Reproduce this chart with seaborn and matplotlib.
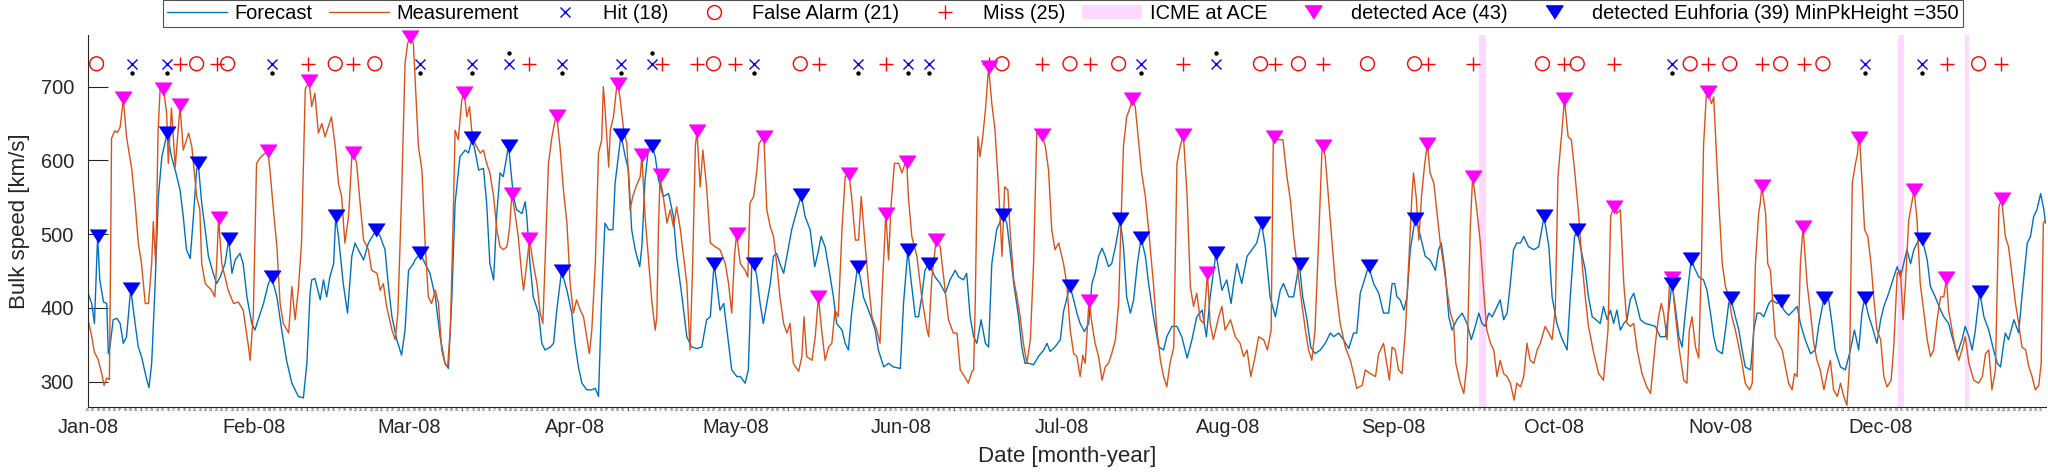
import numpy as np
import pandas as pd
import matplotlib
matplotlib.use("Agg")
import matplotlib.pyplot as plt
import matplotlib.dates as mdates
from matplotlib.lines import Line2D
from matplotlib.patches import Patch
import seaborn as sns

# measured bulk speed at ACE (day of 2008, km/s)
meas_day = [0.0, 0.6, 1.2, 1.9, 2.6, 3.0, 3.5, 4.0, 4.2, 4.4, 5.0, 5.5, 6.0, 6.6, 7.2, 8.2, 8.8, 9.4, 10.0, 10.7,
            11.3, 11.9, 12.2, 12.65, 13.1, 13.5, 14.1, 14.7, 15.0, 15.6, 16.3, 17.2, 17.8, 18.8, 19.4, 20.3, 20.9, 21.25, 21.9, 23.1,
            23.7, 24.05, 24.4, 25.0, 26.2, 27.2, 28.1, 29.0, 30.0, 30.3, 30.9, 31.5, 32.1, 33.1, 33.6, 34.0, 34.6, 35.3, 35.9, 36.5,
            37.5, 38.1, 38.7, 39.3, 39.9, 40.6, 41.3, 41.8, 42.4, 43.05, 43.7, 44.3, 45.5, 46.2, 46.8, 47.4, 48.0, 48.7, 49.3, 49.6,
            50.2, 50.8, 51.5, 52.4, 53.0, 54.0, 54.6, 55.2, 55.8, 56.8, 57.4, 57.9, 58.6, 59.25, 59.75, 60.2, 60.8, 61.3, 61.75, 62.4,
            63.0, 63.6, 64.2, 64.9, 65.5, 66.1, 66.7, 67.2, 67.7, 68.2, 68.6, 69.2, 69.85, 70.3, 70.8, 71.3, 71.7, 72.3, 73.3, 73.9,
            74.5, 75.1, 75.8, 76.4, 77.0, 77.6, 78.3, 78.8, 79.2, 79.8, 80.4, 81.1, 81.4, 82.0, 82.5, 83.2, 83.9, 84.5, 85.0, 85.4,
            86.05, 86.7, 87.3, 87.6, 88.2, 88.85, 89.5, 90.1, 90.7, 91.3, 92.0, 92.6, 93.2, 93.7, 94.15, 94.8, 95.4, 96.0, 96.3, 96.6,
            97.3, 97.6, 98.2, 98.8, 99.0, 99.4, 100.1, 100.7, 101.3, 101.8, 102.4, 103.2, 103.5, 104.1, 104.7, 105.4, 106.0, 106.3, 106.6, 106.9,
            107.5, 108.2, 108.8, 109.4, 110.0, 110.7, 111.3, 111.9, 112.5, 113.0, 113.5, 113.8, 114.4, 114.9, 115.6, 116.3, 117.2, 118.1, 119.1, 119.7,
            120.3, 120.8, 121.2, 121.9, 122.8, 123.3, 123.7, 124.4, 125.0, 125.4, 126.3, 126.85, 127.5, 128.1, 128.7, 129.3, 130.0, 130.6, 131.2, 131.8,
            132.8, 133.4, 133.8, 134.3, 135.3, 135.9, 136.5, 137.1, 137.75, 138.4, 139.0, 139.6, 140.2, 140.9, 141.5, 142.2, 142.7, 143.4, 144.0, 144.5,
            145.2, 145.85, 146.5, 147.4, 148.0, 148.5, 149.1, 149.6, 150.1, 150.7, 151.5, 152.1, 152.7, 153.0, 153.3, 153.95, 154.9, 155.8, 156.8, 157.1,
            157.7, 158.5, 159.25, 159.9, 160.8, 161.7, 162.4, 163.0, 163.8, 164.5, 165.2, 165.5, 165.8, 166.3, 166.7, 167.2, 167.7, 168.3, 168.9, 169.5,
            170.15, 170.5, 170.8, 171.3, 171.9, 172.3, 173.0, 173.6, 174.2, 174.8, 175.45, 176.1, 176.7, 177.3, 177.9, 178.25, 178.9, 179.5, 180.1, 180.7,
            181.4, 182.3, 182.9, 183.55, 184.2, 184.8, 185.4, 185.9, 186.35, 187.0, 187.1, 187.6, 188.2, 188.85, 189.5, 190.1, 190.7, 191.3, 192.0, 192.6,
            193.0, 193.5, 194.1, 194.8, 195.1, 195.7, 196.3, 196.9, 197.6, 198.2, 199.1, 199.75, 200.4, 201.0, 201.6, 202.2, 202.9, 203.5, 204.1, 204.7,
            205.4, 206.0, 206.6, 207.2, 207.85, 208.5, 209.2, 209.7, 210.3, 211.3, 211.9, 212.5, 213.5, 214.4, 215.3, 215.95, 216.6, 217.3, 218.1, 218.75,
            219.7, 220.4, 221.1, 221.5, 221.7, 222.5, 223.3, 224.05, 224.7, 225.3, 225.9, 226.5, 227.5, 228.1, 228.7, 229.3, 230.0, 230.6, 230.8, 231.2,
            231.8, 232.5, 233.1, 234.0, 234.95, 235.9, 236.5, 237.1, 238.1, 238.7, 239.6, 240.6, 241.2, 242.1, 242.7, 243.2, 243.7, 244.3, 244.9, 245.55,
            246.2, 246.8, 247.4, 247.7, 248.2, 248.7, 249.2, 249.8, 250.3, 250.8, 251.5, 252.1, 252.7, 253.3, 253.96, 254.6, 255.2, 255.6, 256.45, 257.1,
            257.7, 258.3, 258.75, 259.4, 260.2, 260.8, 261.4, 262.1, 262.7, 263.3, 263.9, 264.55, 265.2, 265.8, 266.5, 267.0, 267.7, 268.3, 268.9, 269.5,
            270.2, 270.8, 271.4, 272.3, 273.0, 273.6, 274.2, 274.7, 275.45, 275.9, 276.6, 277.2, 277.8, 278.6, 279.2, 279.8, 280.4, 281.4, 282.3, 283.2,
            284.05, 284.55, 285.1, 285.7, 286.35, 287.0, 287.6, 288.2, 288.85, 289.5, 290.4, 291.3, 292.0, 292.9, 293.5, 294.0, 294.45, 295.1, 295.5, 296.0,
            296.6, 297.3, 298.2, 298.8, 299.25, 299.75, 300.4, 301.0, 301.5, 301.9, 302.4, 302.7, 303.4, 303.8, 304.1, 304.7, 305.4, 306.0, 306.6, 307.2,
            307.85, 308.5, 309.1, 309.7, 310.5, 311.0, 311.6, 312.2, 312.5, 312.8, 313.5, 313.9, 314.4, 315.3, 315.95, 316.6, 317.2, 317.8, 318.45, 318.9,
            319.4, 320.0, 320.5, 321.25, 321.9, 322.5, 323.1, 323.7, 324.4, 325.0, 325.6, 326.2, 326.9, 327.5, 328.1, 328.7, 329.2, 329.7, 330.3, 330.7,
            330.9, 331.1, 331.5, 332.0, 332.6, 333.2, 333.7, 334.3, 335.0, 335.6, 336.2, 336.95, 337.45, 338.1, 338.7, 339.2, 339.6, 340.25, 340.9, 341.25,
            341.8, 342.4, 343.1, 343.7, 344.3, 344.9, 345.55, 346.2, 346.8, 347.3, 347.7, 348.35, 349.0, 349.6, 350.2, 350.8, 351.5, 352.4, 353.3, 354.0,
            354.6, 355.2, 355.8, 356.45, 357.1, 357.6, 358.3, 358.9, 359.6, 360.2, 360.8, 361.4, 362.1, 362.7, 363.3, 363.9, 364.55, 365.0, 365.4, 365.8]
meas_kms = [384, 365, 340, 330, 310, 295, 305, 303, 450, 630, 640, 638, 645, 683, 632, 587, 542, 488, 460, 406,
            406, 460, 517, 460, 640, 700, 697, 664, 596, 671, 591, 673, 614, 637, 619, 551, 533, 460, 433, 424,
            415, 460, 522, 460, 424, 406, 408, 397, 347, 329, 393, 596, 603, 610, 613, 587, 537, 483, 406, 379,
            366, 429, 384, 424, 488, 696, 708, 673, 691, 637, 650, 632, 659, 619, 569, 551, 488, 524, 605, 610,
            596, 546, 492, 479, 451, 447, 424, 433, 402, 370, 357, 393, 551, 732, 759, 767, 759, 686, 619, 587,
            488, 415, 406, 424, 406, 343, 325, 320, 370, 506, 641, 628, 682, 691, 659, 673, 641, 623, 610, 614,
            596, 583, 551, 506, 483, 479, 483, 510, 555, 528, 497, 442, 424, 460, 494, 460, 433, 393, 379, 460,
            596, 632, 655, 660, 619, 560, 515, 433, 393, 411, 397, 388, 361, 338, 370, 460, 610, 628, 700, 673,
            591, 641, 659, 700, 703, 686, 641, 623, 533, 551, 564, 578, 607, 524, 470, 406, 370, 388, 506, 578,
            551, 515, 533, 510, 537, 506, 470, 433, 343, 460, 619, 640, 564, 614, 564, 488, 483, 479, 460, 433,
            393, 470, 500, 460, 451, 442, 542, 551, 587, 623, 632, 533, 510, 497, 460, 415, 379, 366, 379, 325,
            314, 334, 388, 334, 329, 361, 415, 370, 329, 347, 352, 397, 388, 506, 578, 582, 551, 492, 492, 551,
            488, 433, 388, 370, 352, 438, 528, 465, 542, 596, 596, 583, 596, 598, 551, 497, 470, 415, 370, 361,
            442, 492, 483, 442, 384, 366, 366, 316, 307, 298, 314, 316, 406, 632, 605, 632, 668, 727, 677, 641,
            564, 515, 470, 564, 560, 506, 438, 415, 388, 352, 325, 357, 460, 637, 635, 635, 619, 587, 506, 479,
            488, 460, 433, 370, 338, 334, 307, 336, 325, 402, 410, 379, 352, 334, 302, 320, 325, 338, 357, 406,
            506, 619, 659, 673, 683, 673, 628, 583, 551, 506, 433, 370, 329, 307, 293, 325, 347, 596, 619, 635,
            551, 429, 402, 420, 384, 379, 447, 379, 357, 388, 402, 370, 384, 361, 352, 334, 343, 307, 334, 361,
            357, 343, 370, 628, 632, 628, 628, 578, 546, 497, 460, 424, 370, 343, 329, 370, 497, 614, 620, 605,
            551, 488, 433, 379, 347, 329, 311, 291, 295, 316, 311, 307, 338, 352, 325, 302, 347, 343, 316, 311,
            370, 460, 551, 583, 551, 492, 551, 596, 622, 583, 569, 528, 488, 460, 424, 393, 379, 325, 298, 284,
            325, 506, 578, 542, 488, 424, 370, 352, 343, 307, 329, 311, 307, 298, 275, 298, 293, 307, 352, 329,
            325, 343, 352, 375, 366, 357, 397, 578, 641, 683, 632, 628, 587, 524, 460, 415, 375, 338, 311, 302,
            370, 524, 537, 528, 533, 433, 379, 375, 379, 343, 311, 293, 284, 352, 388, 406, 393, 357, 429, 440,
            393, 347, 302, 298, 370, 388, 347, 332, 460, 619, 686, 693, 677, 686, 641, 551, 460, 429, 415, 388,
            370, 347, 325, 298, 289, 298, 460, 528, 542, 565, 528, 460, 451, 361, 352, 343, 320, 298, 289, 311,
            307, 460, 510, 433, 393, 352, 329, 316, 289, 311, 329, 289, 280, 298, 280, 268, 325, 569, 596, 610,
            630, 628, 574, 506, 497, 460, 415, 370, 357, 307, 293, 302, 347, 447, 451, 384, 429, 519, 546, 560,
            519, 433, 393, 357, 334, 343, 384, 415, 415, 440, 397, 370, 343, 329, 343, 361, 325, 302, 298, 307,
            338, 343, 289, 316, 537, 548, 497, 483, 442, 406, 379, 347, 343, 320, 307, 289, 295, 325, 515, 519]

# EUHFORIA forecast (day of 2008, km/s)
fc_day = [0.0, 0.7, 1.2, 1.6, 1.8, 2.2, 2.9, 3.5, 3.8, 4.1, 4.7, 5.4, 6.0, 6.6, 7.2, 7.85, 8.0, 8.8, 9.4, 10.0,
          11.0, 11.4, 11.9, 12.5, 13.15, 13.8, 14.8, 15.6, 16.3, 17.2, 17.8, 18.4, 19.1, 19.7, 20.3, 20.6, 21.25, 21.9, 22.5, 23.4,
          24.05, 24.7, 25.6, 26.3, 26.9, 27.5, 28.4, 29.0, 29.7, 30.6, 31.2, 31.8, 32.8, 33.7, 34.3, 35.3, 36.2, 37.1, 38.1, 39.3,
          40.25, 40.9, 41.5, 41.8, 42.4, 43.4, 44.0, 44.6, 45.2, 45.9, 46.3, 46.8, 47.7, 48.5, 49.3, 49.9, 50.5, 51.5, 52.4, 53.8,
          54.6, 55.5, 56.1, 56.8, 57.7, 58.6, 59.25, 59.9, 60.8, 61.1, 62.1, 63.0, 63.9, 64.9, 65.8, 66.7, 67.35, 68.0, 68.6, 69.5,
          70.5, 71.1, 71.8, 72.3, 73.0, 73.9, 74.5, 75.1, 75.8, 76.4, 77.0, 77.6, 78.6, 78.9, 79.5, 80.1, 81.1, 81.7, 82.0, 82.6,
          83.2, 84.2, 84.8, 85.4, 86.4, 87.0, 87.6, 88.5, 89.5, 90.4, 91.0, 91.65, 92.3, 93.2, 94.15, 94.8, 95.4, 96.0, 96.6, 97.3,
          98.1, 98.5, 99.6, 100.4, 101.0, 101.6, 102.25, 103.1, 103.5, 104.1, 104.7, 105.4, 106.0, 106.6, 107.5, 108.5, 109.4, 110.0, 111.0, 111.9,
          112.8, 113.8, 114.7, 115.6, 116.3, 117.0, 117.5, 118.1, 118.8, 119.4, 120.3, 121.25, 121.9, 122.8, 123.4, 124.05, 124.5, 125.0, 125.6, 126.2,
          126.85, 127.5, 128.1, 128.7, 129.3, 130.0, 130.6, 131.5, 132.5, 133.3, 134.0, 134.95, 135.8, 136.4, 137.0, 137.75, 138.7, 139.3, 139.9, 140.9,
          141.5, 142.1, 142.7, 143.8, 144.3, 144.9, 145.85, 146.5, 147.1, 147.7, 148.7, 149.6, 150.5, 151.8, 152.4, 153.2, 153.8, 154.6, 155.2, 155.8,
          156.4, 157.1, 157.7, 158.3, 159.25, 160.2, 161.1, 162.05, 162.7, 163.6, 164.2, 164.85, 165.5, 166.1, 166.9, 167.7, 168.3, 168.9, 169.8, 171.0,
          171.7, 172.3, 173.0, 173.9, 174.5, 175.1, 175.8, 176.7, 177.6, 178.6, 179.2, 179.8, 180.7, 181.7, 182.3, 183.5, 184.2, 184.8, 185.4, 186.2,
          187.0, 187.6, 188.2, 188.85, 189.5, 190.1, 190.7, 191.3, 192.0, 192.9, 193.5, 194.1, 194.8, 195.4, 196.1, 196.8, 197.6, 198.2, 199.1, 200.1,
          201.0, 201.6, 202.55, 203.5, 204.4, 205.4, 206.3, 207.2, 208.2, 209.0, 209.7, 210.8, 211.3, 211.9, 212.8, 213.6, 214.1, 214.7, 215.6, 216.6,
          217.5, 218.4, 219.3, 220.0, 220.9, 221.9, 222.8, 223.4, 224.4, 225.3, 226.35, 227.0, 227.8, 228.5, 229.3, 230.3, 231.2, 232.15, 232.8, 233.7,
          234.6, 235.6, 236.5, 237.1, 237.75, 238.7, 239.3, 240.25, 241.2, 242.1, 243.05, 243.7, 244.2, 244.6, 245.2, 245.9, 246.5, 247.1, 248.0, 248.7,
          249.3, 249.9, 250.8, 251.8, 252.4, 252.9, 253.65, 254.3, 254.9, 255.8, 256.8, 257.7, 258.5, 259.25, 259.9, 260.5, 261.1, 261.75, 262.4, 263.0,
          263.9, 264.55, 265.2, 265.8, 266.4, 267.0, 267.7, 268.3, 269.2, 270.2, 271.1, 272.1, 273.0, 273.6, 274.5, 275.3, 276.4, 277.0, 277.8, 278.3,
          278.9, 279.8, 280.4, 281.1, 281.8, 282.6, 283.2, 283.9, 284.5, 285.1, 285.7, 286.35, 287.0, 287.6, 288.2, 288.85, 289.5, 290.1, 291.0, 292.0,
          292.9, 293.8, 294.8, 296.0, 296.6, 297.3, 297.9, 298.5, 299.6, 300.1, 301.0, 301.9, 302.55, 303.2, 303.8, 304.4, 305.4, 306.0, 306.6, 307.0,
          307.85, 308.5, 309.1, 309.7, 310.7, 311.3, 311.9, 312.5, 313.15, 314.1, 314.7, 315.6, 316.3, 316.9, 317.8, 318.8, 319.4, 320.0, 320.9, 321.9,
          322.8, 323.4, 324.4, 325.3, 325.9, 326.5, 327.5, 328.4, 329.35, 330.1, 330.9, 331.5, 332.0, 332.8, 333.4, 334.3, 335.0, 335.6, 336.5, 337.45,
          338.1, 338.7, 339.3, 339.9, 340.6, 341.2, 342.1, 342.8, 343.7, 344.3, 345.2, 346.2, 346.8, 347.7, 348.35, 349.3, 350.2, 350.8, 351.5, 352.1,
          352.7, 353.5, 354.3, 355.2, 356.1, 356.8, 357.4, 357.9, 358.3, 358.9, 359.9, 360.8, 361.4, 362.4, 363.0, 363.6, 364.2, 364.9, 365.5, 365.8]
fc_kms = [420, 406, 379, 460, 497, 438, 408, 406, 338, 347, 384, 386, 379, 352, 361, 415, 425, 379, 347, 334,
          302, 292, 325, 424, 551, 605, 637, 605, 587, 560, 524, 479, 467, 524, 587, 596, 542, 506, 470, 447,
          433, 442, 460, 493, 447, 465, 474, 460, 415, 379, 370, 384, 406, 433, 442, 415, 370, 329, 298, 280,
          278, 325, 420, 438, 440, 411, 438, 415, 442, 460, 524, 497, 433, 393, 470, 488, 479, 465, 488, 505,
          497, 479, 433, 388, 357, 336, 370, 451, 460, 465, 474, 460, 447, 415, 361, 325, 318, 415, 542, 605,
          614, 610, 630, 614, 587, 589, 542, 460, 438, 528, 583, 578, 620, 596, 551, 533, 528, 544, 524, 460,
          415, 393, 352, 343, 347, 352, 397, 450, 424, 393, 352, 320, 298, 289, 289, 291, 280, 415, 515, 506,
          506, 569, 635, 605, 587, 506, 479, 456, 483, 574, 614, 620, 605, 574, 551, 555, 524, 470, 415, 361,
          347, 345, 347, 384, 388, 460, 433, 397, 406, 370, 316, 307, 307, 298, 316, 460, 460, 442, 406, 379,
          406, 433, 470, 474, 460, 447, 470, 506, 533, 553, 524, 506, 456, 474, 497, 483, 442, 415, 379, 370,
          352, 343, 393, 456, 442, 415, 397, 384, 370, 343, 320, 325, 320, 318, 406, 478, 438, 388, 388, 415,
          451, 460, 451, 442, 433, 420, 438, 451, 442, 438, 447, 388, 361, 352, 384, 352, 347, 460, 506, 526,
          515, 479, 433, 388, 347, 325, 325, 323, 334, 343, 352, 341, 347, 357, 395, 430, 411, 393, 379, 368,
          379, 433, 447, 470, 481, 470, 456, 460, 483, 520, 483, 415, 393, 411, 460, 495, 470, 433, 388, 347,
          343, 361, 375, 375, 361, 332, 357, 388, 397, 361, 415, 475, 451, 424, 438, 406, 433, 460, 433, 470,
          479, 488, 515, 483, 415, 388, 424, 433, 415, 415, 460, 415, 384, 347, 338, 343, 352, 366, 361, 366,
          357, 345, 366, 366, 420, 442, 457, 433, 420, 393, 393, 433, 433, 415, 411, 397, 415, 479, 520, 506,
          488, 470, 465, 451, 479, 488, 447, 388, 370, 384, 393, 379, 357, 375, 393, 379, 375, 393, 388, 397,
          411, 384, 393, 433, 479, 488, 488, 497, 483, 479, 483, 524, 483, 415, 379, 361, 343, 415, 497, 505,
          483, 451, 415, 388, 384, 379, 402, 384, 397, 379, 397, 370, 379, 384, 411, 420, 402, 384, 379, 377,
          375, 361, 361, 433, 402, 361, 347, 393, 467, 456, 442, 438, 424, 393, 361, 343, 338, 370, 406, 413,
          388, 370, 343, 320, 316, 370, 393, 393, 388, 406, 411, 406, 410, 397, 390, 397, 402, 379, 357, 338,
          343, 375, 413, 411, 379, 343, 320, 316, 343, 370, 343, 393, 413, 388, 375, 352, 384, 402, 420, 442,
          456, 442, 460, 479, 460, 479, 492, 493, 465, 429, 415, 397, 388, 379, 361, 338, 357, 375, 361, 343,
          370, 422, 388, 370, 343, 325, 320, 347, 366, 357, 384, 366, 415, 488, 497, 524, 533, 555, 533, 515]

# detected peaks
ace_peak_day = [6.6, 14.1, 17.2, 24.4, 33.6, 41.3, 49.6, 60.2, 70.3, 79.3, 82.5, 87.6, 99.0, 103.5, 107.0,
                113.8, 121.2, 126.3, 136.5, 142.2, 149.1, 153.0, 158.5, 168.3, 178.2, 187.1, 195.1, 204.7, 209.2,
                221.7, 230.8, 250.3, 258.8, 275.9, 285.1, 296.0, 302.7, 312.8, 320.5, 330.9, 341.2, 347.3, 357.6]
ace_peak_kms = [685, 697, 675, 522, 613, 708, 610, 767, 691, 555, 494, 660, 703, 607, 580,
                640, 500, 632, 415, 582, 528, 598, 492, 727, 635, 410, 683, 635, 447,
                632, 620, 622, 578, 683, 537, 440, 693, 565, 510, 630, 560, 440, 548]
euh_peak_day = [1.8, 8.0, 14.8, 20.6, 26.3, 34.3, 46.3, 53.8, 62.1, 71.8, 78.6, 88.5, 99.6, 105.4, 117.0,
                124.5, 133.3, 143.8, 153.2, 157.1, 171.0, 183.5, 192.9, 196.8, 210.8, 219.3, 226.4, 239.3, 248.0,
                272.1, 278.3, 296.0, 299.6, 307.0, 316.3, 324.4, 332.0, 342.8, 353.5]
euh_peak_kms = [497, 425, 637, 596, 493, 442, 524, 505, 474, 630, 620, 450, 635, 620, 460,
                460, 553, 456, 478, 460, 526, 430, 520, 495, 475, 515, 460, 457, 520,
                524, 505, 433, 467, 413, 410, 413, 413, 493, 422]

# event classification (all drawn on one row)
hit_day = [8.2, 14.7, 34.3, 62.1, 71.7, 78.6, 88.5, 99.6, 105.4, 124.5, 143.8, 153.2, 157.1, 196.8,
           210.8, 296.0, 332.0, 342.8]
fa_day = [1.6, 20.3, 26.1, 46.2, 53.6, 116.9, 133.1, 170.8, 183.5, 192.6, 219.1, 226.2, 239.1, 247.9,
          271.8, 278.3, 299.4, 306.8, 316.3, 324.2, 353.3]
miss_day = [17.2, 24.2, 41.2, 49.6, 82.5, 107.2, 113.8, 121.0, 136.6, 149.1, 168.4, 178.2, 187.2, 204.7,
            221.9, 230.8, 250.4, 258.8, 275.9, 285.1, 302.7, 312.8, 320.6, 347.4, 357.5]
event_kms = 731
dot_day = [8.2, 14.7, 34.3, 62.1, 71.7, 78.6, 88.5, 99.6, 105.4, 124.5, 143.8, 153.2, 157.1, 196.8,
           210.8, 296.0, 332.0, 342.8]
dot_kms = [718, 718, 718, 718, 718, 746, 718, 718, 746, 718, 718, 718, 718, 718,
           746, 718, 718, 718]

# ICME intervals at ACE (start, end day)
icme_start = [260.0, 338.3, 350.7]
icme_end = [261.3, 339.4, 351.6]

start = pd.Timestamp("2008-01-01")


def to_dates(days):
    return start + pd.to_timedelta(np.asarray(days, dtype=float), unit="D")


blue = "#0072BD"
orange = "#D95319"
magenta = "#FF00FF"
ink = "#262626"
tri = [(-1, 0.78), (1, 0.78), (0, -0.78)]

sns.set_style("white")
plt.rcParams["font.family"] = ["Liberation Sans", "DejaVu Sans"]

fig = plt.figure(figsize=(20.48, 4.73), dpi=100)
ax = fig.add_axes([88 / 2048, 66 / 473, 1958 / 2048, 372 / 473])

for a, b in zip(icme_start, icme_end):
    ax.axvspan(to_dates([a])[0], to_dates([b])[0], color=magenta, alpha=0.15, lw=0, zorder=0)

fc = pd.DataFrame({"time": to_dates(fc_day), "kms": fc_kms})
meas = pd.DataFrame({"time": to_dates(meas_day), "kms": meas_kms})
sns.lineplot(data=fc, x="time", y="kms", color=blue, linewidth=1.0, estimator=None, ax=ax, zorder=2)
sns.lineplot(data=meas, x="time", y="kms", color=orange, linewidth=1.0, estimator=None, ax=ax, zorder=2)

sns.scatterplot(x=to_dates(hit_day), y=[event_kms] * len(hit_day), marker="x", s=52, color="b",
                linewidth=1.0, ax=ax, zorder=4, clip_on=False)
sns.scatterplot(x=to_dates(fa_day), y=[event_kms] * len(fa_day), marker="o", s=100, color="r",
                facecolor="none", edgecolor="r", linewidth=1.0, ax=ax, zorder=4, clip_on=False)
sns.scatterplot(x=to_dates(miss_day), y=[event_kms] * len(miss_day), marker="+", s=100, color="r",
                linewidth=1.0, ax=ax, zorder=4, clip_on=False)
sns.scatterplot(x=to_dates(dot_day), y=dot_kms, marker="o", s=10, color="k", edgecolor="k",
                linewidth=0, ax=ax, zorder=4, clip_on=False)
sns.scatterplot(x=to_dates(ace_peak_day), y=ace_peak_kms, marker=tri, s=150, color=magenta,
                edgecolor=magenta, linewidth=0.5, ax=ax, zorder=5, clip_on=False)
sns.scatterplot(x=to_dates(euh_peak_day), y=euh_peak_kms, marker=tri, s=150, color="b", edgecolor="b",
                linewidth=0.5, ax=ax, zorder=5, clip_on=False)

ax.set_xlim(start, start + pd.Timedelta(days=365.9))
ax.set_ylim(265.7, 770)
ax.set_yticks([300, 400, 500, 600, 700])

ax.xaxis.set_major_locator(mdates.MonthLocator())
ax.xaxis.set_major_formatter(mdates.DateFormatter("%b-%y"))
ax.xaxis.set_minor_locator(mdates.DayLocator())
ax.xaxis.set_minor_formatter(mdates.DateFormatter("%d"))
ax.xaxis.remove_overlapping_locs = False

ax.tick_params(axis="x", which="major", direction="in", length=14.4, width=0.8, color=ink,
               labelsize=14.4, labelcolor=ink, pad=8)
ax.tick_params(axis="x", which="minor", direction="in", length=7.2, width=0.6, color=ink,
               labelsize=2.5, labelcolor=ink, pad=1)
ax.tick_params(axis="y", which="major", direction="in", length=14.4, width=0.8, color=ink,
               labelsize=14.4, labelcolor=ink, pad=10, left=True)

for side in ["top", "right"]:
    ax.spines[side].set_visible(False)
for side in ["left", "bottom"]:
    ax.spines[side].set_color(ink)
    ax.spines[side].set_linewidth(0.8)

ax.set_xlabel("Date [month-year]", fontsize=16, color=ink)
ax.set_ylabel("Bulk speed [km/s]", fontsize=16, color=ink)
ax.xaxis.set_label_coords(0.5, -0.105)
ax.yaxis.set_label_coords(-0.0296, 0.5)

handles = [
    Line2D([], [], color=blue, lw=1.0),
    Line2D([], [], color=orange, lw=1.0),
    Line2D([], [], ls="none", marker="x", color="b", ms=7.2, mew=1.0),
    Line2D([], [], ls="none", marker="o", mfc="none", mec="r", ms=10, mew=1.0),
    Line2D([], [], ls="none", marker="+", color="r", ms=10, mew=1.0),
    Patch(facecolor=magenta, alpha=0.15, lw=0),
    Line2D([], [], ls="none", marker=tri, color=magenta, ms=12.2),
    Line2D([], [], ls="none", marker=tri, color="b", ms=12.2),
]
labels = [
    "Forecast",
    "Measurement",
    f"Hit ({len(hit_day)})",
    f"False Alarm ({len(fa_day)})",
    f"Miss ({len(miss_day)})",
    "ICME at ACE",
    f"detected Ace ({len(ace_peak_day)})",
    f"detected Euhforia ({len(euh_peak_day)}) MinPkHeight =350",
]
leg = fig.legend(handles, labels, loc="upper center", bbox_to_anchor=(1062.5 / 2048, 1.0), ncol=8,
                 frameon=True, fancybox=False, fontsize=14.4, handlelength=3.0, handletextpad=0.4,
                 columnspacing=0.8, borderpad=0.2, borderaxespad=0)
leg.get_frame().set_edgecolor(ink)
leg.get_frame().set_linewidth(0.8)
for t in leg.get_texts():
    t.set_color("k")

fig.savefig("out.png", dpi=100)
